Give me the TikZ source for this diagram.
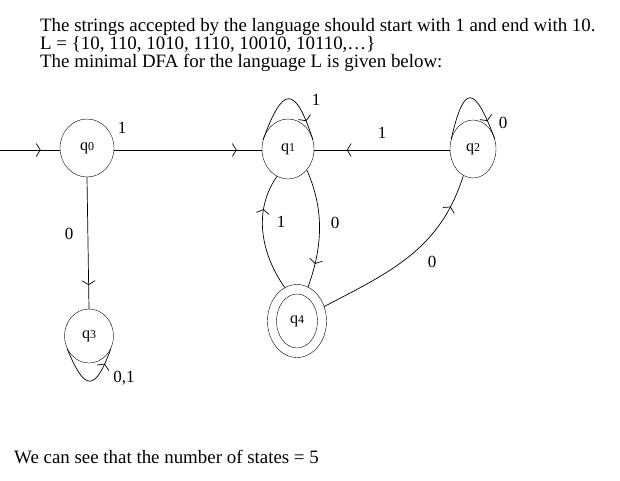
\documentclass[tikz,border=0pt]{standalone}
\usepackage{fontspec}
\setmainfont{Liberation Serif}
\usetikzlibrary{shapes.geometric,arrows.meta,decorations.markings}
\begin{document}
\begin{tikzpicture}[x=1pt,y=-1pt,
  state/.style={draw,ellipse,minimum width=#1,inner sep=0pt,font=\fontsize{16}{17}\selectfont},
  lbl/.style={font=\fontsize{17}{18}\selectfont,inner sep=0pt},
  txt/.style={font=\fontsize{18.9}{18}\selectfont,inner sep=0pt,anchor=base west},
  midarrow/.style={postaction={decorate},decoration={markings,
     mark=at position #1 with {\arrow{Straight Barb[length=4pt,width=13pt]}}}},
  line/.style={draw,line width=0.7pt}
]
\useasboundingbox (0,0) rectangle (620,480);
\node[txt] (t1) at (40,31) {The strings accepted by the language should start with 1 and end with 10.};
\node[txt] (t2) at (40,49) {L = \{10, 110, 1010, 1110, 10010, 10110,\dots\}};
\node[txt] (t3) at (40,67) {The minimal DFA for the language L is given below:};
\node[txt] (t4) at (14,463) {We can see that the number of states = 5};

\node[state=54pt,minimum height=58pt] (q0) at (87,148) {q{\fontsize{12}{12}\selectfont 0}};
\node[state=52pt,minimum height=60pt] (q1) at (288,149) {q{\fontsize{12}{12}\selectfont 1}};
\node[state=46pt,minimum height=58pt] (q2) at (473,149) {q{\fontsize{12}{12}\selectfont 2}};
\node[state=49pt,minimum height=54pt] (q3) at (89,336) {q{\fontsize{12}{12}\selectfont 3}};
\node[state=59pt,minimum height=73pt] (q4) at (297,321) {};
\node[state=41pt,minimum height=54pt] (q4i) at (297,321) {q{\fontsize{12}{12}\selectfont 4}};

\coordinate (start) at (0,150);
\draw[line,midarrow=0.68] (start) -- (q0.west |- start);
\draw[line,midarrow=0.83] (q0.east |- start) -- (q1.west |- start);
\draw[line,midarrow=0.76] (q2.west |- start) -- (q1.east |- start);
\draw[line,midarrow=0.82] (q0.south) -- (q3.north);

% self loops
\draw[line,midarrow=0.8] (q1.160) .. controls (283,85) and (295,85) .. (q1.20);
\draw[line,midarrow=0.8] (q2.155) .. controls (464,84) and (474,84) .. (q2.25);
\draw[line,midarrow=0.8] (q3.-150) .. controls (85,392) and (95,392) .. (q3.-30);

% q1 <-> q4
\draw[line,midarrow=0.8] (q1.-48) .. controls (322,205) and (325,240) .. (q4.72);
\draw[line,midarrow=0.7] (q4.110) .. controls (265,260) and (250,215) .. (q1.-112);
% q4 -> q2
\draw[line,midarrow=0.83] (q4.28) .. controls (390,272) and (440,250) .. (q2.-110);

% labels
\node[lbl] (l01) at (122,128) {1};
\node[lbl] (l11) at (316,100) {1};
\node[lbl] (l21) at (382,133) {1};
\node[lbl] (l20) at (503,123) {0};
\node[lbl] (l03) at (69,234) {0};
\node[lbl] (l41) at (281,222) {1};
\node[lbl] (l14) at (335,223) {0};
\node[lbl] (l42) at (432,262) {0};
\node[lbl] (l33) at (124,378) {0,1};
\end{tikzpicture}
\end{document}
